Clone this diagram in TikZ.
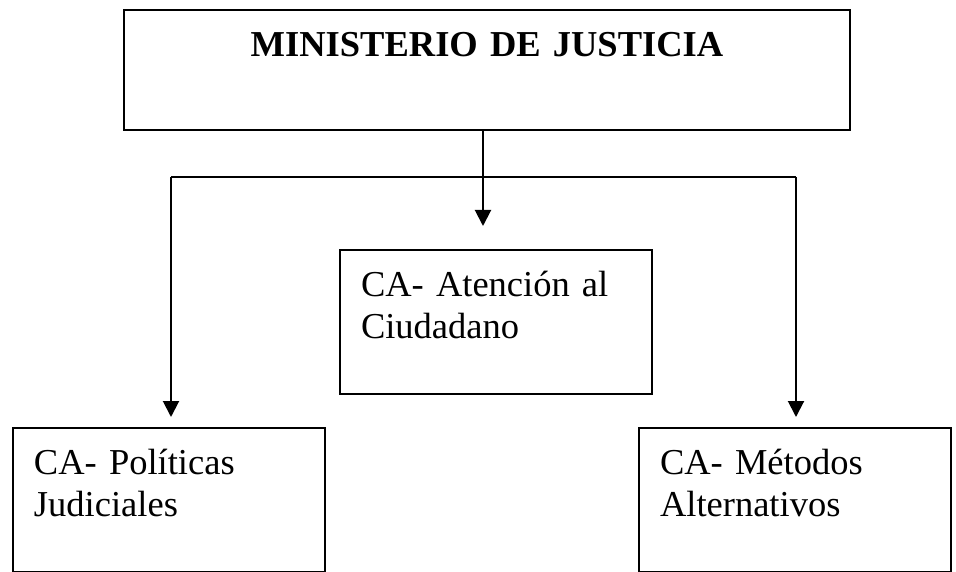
\documentclass[tikz,border=0pt]{standalone}
\usepackage{fontspec}
\setmainfont{Liberation Serif}
\usetikzlibrary{arrows.meta}

\begin{document}
\begin{tikzpicture}[x=1pt, y=-1pt]
	\tikzstyle{ministerio} = [draw=black, line width=2pt, anchor=north west, inner sep=0pt, text width=726pt, align=center, text height=47pt, text depth=73pt, font=\fontsize{36.5}{42}\selectfont\bfseries]
	\tikzstyle{unidad}     = [draw=black, line width=2pt, anchor=north west, inner xsep=21pt, inner ysep=0pt, text width=270pt, align=left, text height=46pt, text depth=98pt, font=\fontsize{36.5}{42}\selectfont]
	\tikzstyle{flecha}     = [line width=2pt, -{Triangle[length=16pt, width=16pt]}]

	\useasboundingbox (0, 0) rectangle (956, 572);

	\node[ministerio] (mj) at (123, 9) {MINISTERIO DE JUSTICIA};

	\foreach \name/\x/\y/\texto in {atencion/339/249/{CA- Atención al\\Ciudadano}, politicas/12/427/{CA- Políticas\\Judiciales}, metodos/638/427/{CA- Métodos\\Alternativos}}
		\node[unidad] (\name) at (\x, \y) {\texto};

	\coordinate (centro) at (483, 177);
	\coordinate (izq) at (171, 177);
	\coordinate (der) at (796, 177);

	\draw[flecha, shorten >=23pt] (mj.south -| centro) -- (centro |- atencion.north);
	\draw[line width=2pt] (izq) -- (der);

	\foreach \desde/\hasta in {izq/politicas, der/metodos}
		\draw[flecha, shorten >=10pt] (\desde) -- (\desde |- \hasta.north);
\end{tikzpicture}
\end{document}
